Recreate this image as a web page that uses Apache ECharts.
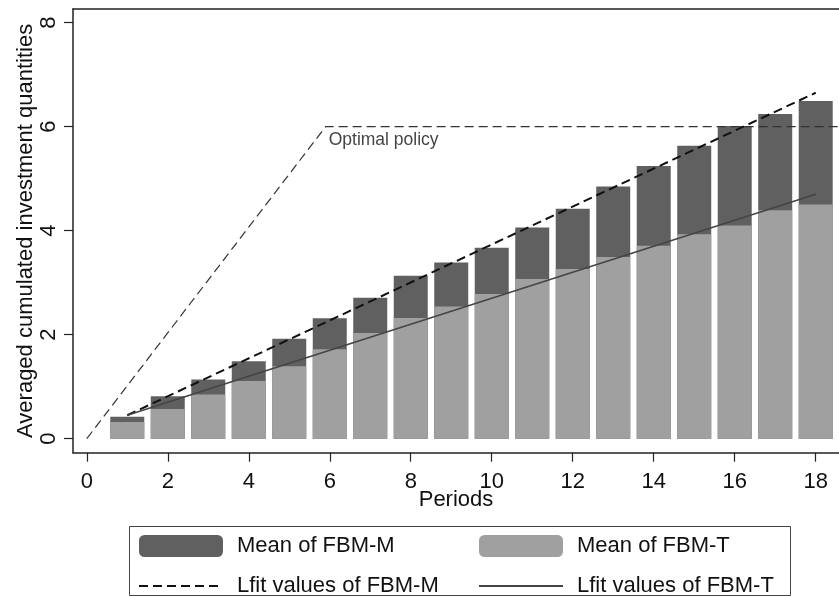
<!DOCTYPE html>
<html>
<head>
<meta charset="utf-8">
<script src="https://cdn.jsdelivr.net/npm/echarts@6/dist/echarts.min.js"></script>
<style>
html,body{margin:0;padding:0;background:#fff;}
#chart{width:839px;height:597px;}
</style>
</head>
<body>
<div id="chart"></div>
<script>
// ---- data ----
var periods = [1,2,3,4,5,6,7,8,9,10,11,12,13,14,15,16,17,18];
var meanFBM_M = [0.42,0.815,1.135,1.49,1.92,2.315,2.71,3.13,3.385,3.67,4.06,4.42,4.85,5.24,5.63,6.01,6.24,6.49];
var meanFBM_T = [0.32,0.57,0.85,1.11,1.39,1.72,2.03,2.32,2.54,2.78,3.07,3.26,3.49,3.71,3.93,4.10,4.39,4.50];
var lfitX = [1,18];
var lfitM = [0.45,6.65];
var lfitT = [0.45,4.70];
var optimalX = [0,5.9,19];
var optimalY = [0,6,6];
var xTicks = [0,2,4,6,8,10,12,14,16,18];
var yTicks = [0,2,4,6,8];

function zip(a,b){ return a.map(function(v,i){ return [v,b[i]]; }); }

var FONT = 'Liberation Sans, Arial, sans-serif';
var AXIS_COLOR = '#222';
var TXT = '#111';
var chart = echarts.init(document.getElementById('chart'), null, {renderer:'canvas'});
var xMin = -0.34, xMax = 18.575;
var hiddenSym = {opacity:0};
chart.setOption({
  backgroundColor:'#fff',
  animation:false,
  grid:{left:73, top:9, right:0, bottom:144.3, containLabel:false},
  xAxis:[{
    type:'value', min:xMin, max:xMax,
    name:'Periods', nameLocation:'middle', nameGap:36, nameMoveOverlap:false,
    nameTextStyle:{fontFamily:FONT, fontSize:22, color:TXT},
    axisLine:{show:true, onZero:false, lineStyle:{color:AXIS_COLOR, width:1.5}},
    axisTick:{show:true, length:9, lineStyle:{color:AXIS_COLOR, width:1.2}, customValues:xTicks},
    axisLabel:{fontFamily:FONT, fontSize:22, color:TXT, margin:18, customValues:xTicks},
    splitLine:{show:false}
  },{
    type:'value', position:'top', min:xMin, max:xMax,
    axisLine:{show:true, onZero:false, lineStyle:{color:AXIS_COLOR, width:1.5}},
    axisTick:{show:false}, axisLabel:{show:false}, splitLine:{show:false}
  }],
  yAxis:{
    type:'value', min:-0.27, max:8.26,
    name:'Averaged cumulated investment quantities', nameLocation:'middle', nameGap:36, nameMoveOverlap:false,
    nameTextStyle:{fontFamily:FONT, fontSize:22, color:TXT},
    axisLine:{show:true, onZero:false, lineStyle:{color:AXIS_COLOR, width:1.5}},
    axisTick:{show:true, length:9, lineStyle:{color:AXIS_COLOR, width:1.2}, customValues:yTicks},
    axisLabel:{fontFamily:FONT, fontSize:22, color:TXT, margin:13, rotate:90, customValues:yTicks},
    splitLine:{show:false}
  },
  legend:[{
    orient:'vertical', left:138, top:535, padding:0,
    itemWidth:84, itemHeight:22, itemGap:18,
    textStyle:{fontFamily:FONT, fontSize:22, color:TXT, padding:[0,0,0,9]},
    data:['Mean of FBM-M',{name:'Lfit values of FBM-M', itemStyle:hiddenSym}]
  },{
    orient:'vertical', left:478, top:535, padding:0,
    itemWidth:84, itemHeight:22, itemGap:18,
    textStyle:{fontFamily:FONT, fontSize:22, color:TXT, padding:[0,0,0,9]},
    data:['Mean of FBM-T',{name:'Lfit values of FBM-T', itemStyle:hiddenSym}]
  }],
  graphic:[{
    type:'rect', silent:true,
    shape:{x:129.5, y:526.5, width:661, height:69},
    style:{fill:'none', stroke:'#444', lineWidth:1}
  }],
  series:[{
    name:'Mean of FBM-M', type:'bar', barWidth:34, barGap:'-100%',
    itemStyle:{color:'#606060'},
    data:zip(periods, meanFBM_M), z:2
  },{
    name:'Mean of FBM-T', type:'bar', barWidth:34, barGap:'-100%',
    itemStyle:{color:'#a0a0a0'},
    data:zip(periods, meanFBM_T), z:3
  },{
    name:'Optimal policy', type:'line', symbol:'none', clip:true,
    lineStyle:{color:'#333', width:1.2, type:[9,5]},
    data:zip(optimalX, optimalY), z:4
  },{
    name:'Lfit values of FBM-M', type:'line', symbol:'none',
    itemStyle:{color:'rgba(0,0,0,0)'},
    lineStyle:{color:'#111', width:2, type:[9,5]},
    data:zip(lfitX, lfitM), z:5
  },{
    name:'Lfit values of FBM-T', type:'line', symbol:'none',
    itemStyle:{color:'rgba(0,0,0,0)'},
    lineStyle:{color:'#444', width:1.5},
    data:zip(lfitX, lfitT), z:5
  },{
    name:'optimalLabel', type:'scatter', symbolSize:0,
    data:[[optimalX[1], optimalY[1]]], z:6,
    label:{show:true, formatter:'Optimal policy', position:'right', distance:3, offset:[0,14],
      fontFamily:FONT, fontSize:17.5, color:'#111'}
  }]
});
</script>
</body>
</html>
